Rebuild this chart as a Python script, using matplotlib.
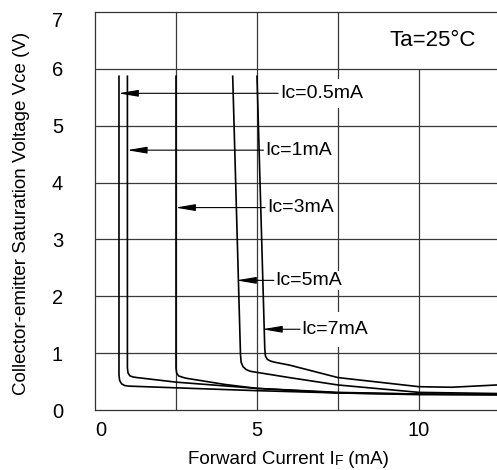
import matplotlib
matplotlib.use('Agg')
from matplotlib import pyplot as plt

plt.rcParams['font.family'] = ['Liberation Sans', 'DejaVu Sans']

# curves (forward current mA, Vce V)
if_05 = [0.74, 0.74, 0.76, 0.82, 0.92, 1.05, 2.5, 5.0, 7.5, 10.0, 12.4]
vce_05 = [5.87, 0.62, 0.52, 0.46, 0.43, 0.42, 0.39, 0.34, 0.30, 0.28, 0.27]
if_1 = [1.0, 1.0, 1.02, 1.08, 1.18, 1.3, 2.5, 5.0, 7.5, 10.0, 12.4]
vce_1 = [5.87, 0.74, 0.65, 0.60, 0.58, 0.57, 0.49, 0.38, 0.31, 0.28, 0.27]
if_3 = [2.5, 2.5, 2.52, 2.58, 2.68, 2.8, 4.0, 5.0, 7.5, 10.0, 12.4]
vce_3 = [5.87, 0.74, 0.65, 0.60, 0.58, 0.56, 0.45, 0.38, 0.30, 0.27, 0.27]
if_5 = [4.25, 4.49, 4.51, 4.57, 4.67, 4.8, 6.0, 7.5, 10.0, 12.4]
vce_5 = [5.87, 0.98, 0.84, 0.76, 0.71, 0.68, 0.57, 0.44, 0.31, 0.29]
if_7 = [5.0, 5.24, 5.26, 5.32, 5.42, 5.55, 6.0, 7.5, 10.0, 11.0, 12.4]
vce_7 = [5.87, 1.08, 0.95, 0.89, 0.86, 0.84, 0.79, 0.57, 0.41, 0.40, 0.44]

# callouts
labels = ['Ic=0.5mA', 'Ic=1mA', 'Ic=3mA', 'Ic=5mA', 'Ic=7mA']
label_y = [5.57, 4.57, 3.56, 2.28, 1.42]
tip_x = [0.72, 0.99, 2.48, 4.36, 5.16]
tail_x = [5.65, 5.2, 5.25, 5.52, 6.33]
text_x = [5.72, 5.27, 5.32, 5.57, 6.38]
box_pad = [4.5, 1, 1, 1, 6.5]

fig = plt.figure(figsize=(4.97, 4.70), dpi=100)
ax = fig.add_axes([95 / 497, 60 / 470, 402 / 497, 398 / 470])
ax.set_xlim(0, 402 / 32.4)
ax.set_ylim(0, 7)

gc = '#383838'
ax.vlines([2.5, 5, 7.5], 0, 7, color=gc, lw=0.9, zorder=1)
ax.vlines([10], 0, 6, color=gc, lw=0.9, zorder=1)
ax.hlines([1, 2, 3, 4, 5, 6], 0, 13, color=gc, lw=0.9, zorder=3)

for xs, ys in [(if_05, vce_05), (if_1, vce_1), (if_3, vce_3), (if_5, vce_5), (if_7, vce_7)]:
    ax.plot(xs, ys, color='black', lw=1.2, zorder=4)

for lab, y, x0, x1, tx, pd in zip(labels, label_y, tip_x, tail_x, text_x, box_pad):
    ax.annotate('', xy=(x0, y), xytext=(x1, y),
                arrowprops=dict(arrowstyle='-|>,head_length=1.0,head_width=0.17',
                                color='black', lw=0.8, shrinkA=0, shrinkB=0,
                                mutation_scale=12), zorder=5)
    ax.text(tx, y, lab, fontsize=14, ha='left', va='center', zorder=2,
            bbox=dict(facecolor='white', edgecolor='none', pad=pd))

ax.text(10.42, 6.5, 'Ta=25°C', fontsize=16, ha='center', va='center')

for s in ['left', 'bottom', 'top']:
    ax.spines[s].set_color('#333333')
    ax.spines[s].set_linewidth(0.9)
ax.spines['right'].set_visible(False)

ax.set_xticks([0, 5, 10])
ax.set_yticks(range(8))
ax.tick_params(axis='both', length=0, labelsize=14.5)
ax.tick_params(axis='x', pad=8)
ax.tick_params(axis='y', pad=23)
ax.get_xticklabels()[0].set_ha('left')
ax.get_yticklabels()[-1].set_va('top')

# axis titles
fig.text(21.7 / 497, 1 - 213.5 / 470, 'Collector-emitter Saturation Voltage Vce (V)',
         rotation=90, ha='center', va='center', fontsize=13.5)
t1 = fig.text(188 / 497, 1 - 464 / 470, 'Forward Current I', fontsize=13.5,
              ha='left', va='baseline')
t2 = ax.annotate('F', xy=(1, 0), xycoords=t1, fontsize=10, ha='left', va='bottom',
                 annotation_clip=False)
ax.annotate(' (mA)', xy=(1, 0), xycoords=t2, fontsize=13.5, ha='left', va='bottom',
            annotation_clip=False)

fig.savefig('out.png', dpi=100)
